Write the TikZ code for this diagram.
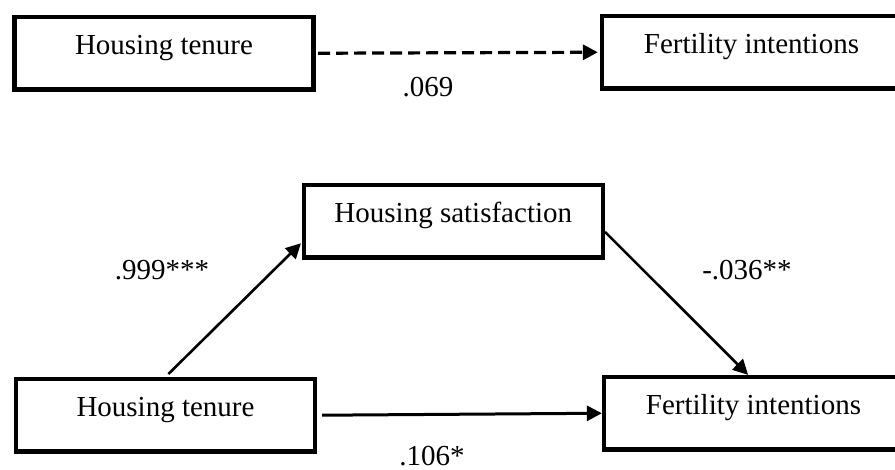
\documentclass[tikz,border=0pt]{standalone}
\usepackage{fontspec}
\setmainfont{Liberation Serif}
\usetikzlibrary{arrows.meta}

\begin{document}
\begin{tikzpicture}[>={Triangle[length=15pt,width=15pt]},shorten >=1pt,x=1pt,y=-1pt,
    var/.style={draw,line width=4.3pt,inner sep=0pt,minimum width=299pt,
      text height=38pt,text depth=34.5pt,anchor=base},
    coef/.style={anchor=base},
    font=\fontsize{29}{34}\selectfont]

          \clip (0,0) rectangle (895,470);

          % total effect
          \node[var] (ten1) at (164,55) {Housing tenure};
          \node[var] (fer1) at (751.5,54) {Fertility intentions};
          \node[coef] (c1) at (428,97) {.069};

          % mediation model
          \node[var] (sat) at (453.3,223) {Housing satisfaction};
          \node[var] (ten2) at (165.5,417) {Housing tenure};
          \node[var] (fer2) at (753.5,415) {Fertility intentions};
          \node[coef] (c2) at (162,280) {.999***};
          \node[coef] (c3) at (747,280) {-.036**};
          \node[coef] (c4) at (432,465) {.106*};

          \path[->]
          (ten1.east) edge [line width=3.2pt,dash pattern=on 12pt off 6pt,
            shorten <=2.5pt,shorten >=2pt] (fer1.west)

          (ten2.north) edge [line width=2.6pt,shorten <=4pt] (sat.188)
          (sat.356) edge [line width=2.6pt,shorten >=0pt] (fer2.98)
          (ten2.east) edge [line width=3pt,shorten <=5pt,shorten >=0pt] (fer2.west)
          ;
        \end{tikzpicture}
\end{document}
